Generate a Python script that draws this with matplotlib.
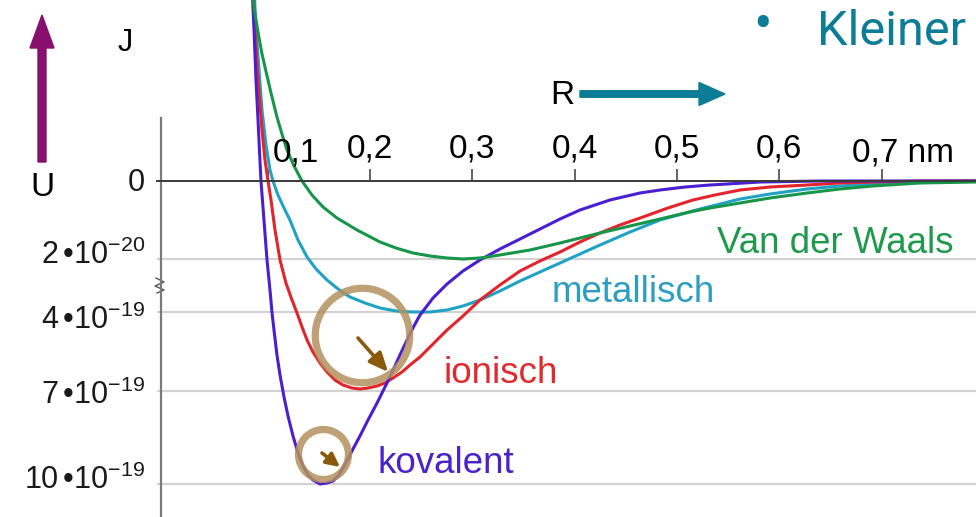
import numpy as np
import matplotlib.pyplot as plt
from matplotlib.patches import FancyArrow
from matplotlib.lines import Line2D
from matplotlib.transforms import IdentityTransform

plt.rcParams['font.family'] = ['Liberation Sans', 'DejaVu Sans']
plt.rcParams['mathtext.fontset'] = 'custom'
plt.rcParams['mathtext.rm'] = 'Liberation Sans'

# Abstand R in nm, Bindungsenergie U in 10^-19 J (nach unten aufgetragen)
r_kovalent = [0.0847, 0.0867, 0.0886, 0.0906, 0.0920, 0.0935, 0.0964, 0.0994, 0.1023,
              0.1043, 0.1062, 0.1091, 0.1121, 0.1160, 0.1199, 0.1248, 0.1297, 0.1346,
              0.1394, 0.1443, 0.1512, 0.1580, 0.1639, 0.1688, 0.1736, 0.1785, 0.1834,
              0.1902, 0.1971, 0.2069, 0.2166, 0.2244, 0.2293, 0.2362, 0.2430, 0.2489,
              0.2616, 0.2753, 0.2909, 0.3075, 0.3270, 0.3564, 0.3857, 0.4052, 0.4345,
              0.4638, 0.4834, 0.5078, 0.5322, 0.5811, 0.6397, 0.7921]
u_kovalent = [-0.5, -0.3872, -0.259, -0.1564, -0.0795, 0, 0.1, 0.2717, 2.4226,
              4.038, 4.6836, 5.6329, 6.3924, 7.1935, 7.8065, 8.4516, 9.0, 9.4194,
              9.7097, 9.871, 10.0, 9.9677, 9.9032, 9.7419, 9.4839, 9.1935, 8.871,
              8.4516, 8.0, 7.3871, 6.6962, 6.0507, 5.6329, 5.0633, 4.5317, 4.1139,
              2.9962, 1.9925, 1.0604, 0.2717, 0.1744, 0.1359, 0.0974, 0.0744, 0.0487,
              0.0308, 0.0231, 0.0154, 0.0103, 0.0026, 0, 0]

r_ionisch = [0.0857, 0.0876, 0.0906, 0.0945, 0.0974, 0.1004, 0.1033, 0.1072, 0.1121,
             0.1179, 0.1238, 0.1287, 0.1336, 0.1385, 0.1443, 0.1512, 0.1580, 0.1658,
             0.1736, 0.1824, 0.1902, 0.1981, 0.2069, 0.2147, 0.2225, 0.2313, 0.2391,
             0.2489, 0.2616, 0.2753, 0.2909, 0.3075, 0.3270, 0.3466, 0.3661, 0.3857,
             0.4052, 0.4248, 0.4443, 0.4668, 0.4912, 0.5156, 0.5371, 0.5616, 0.5909,
             0.6270, 0.6593, 0.6915, 0.7375, 0.7921]
u_ionisch = [-0.5, -0.3872, -0.259, -0.1308, -0.0538, 0, 0.0487, 0.1256, 0.2717,
             1.9208, 3.1396, 4.038, 4.5696, 5.0633, 5.519, 5.9367, 6.2785, 6.5823,
             6.7722, 6.8861, 6.9241, 6.8861, 6.8101, 6.6962, 6.5063, 6.2785, 6.0127,
             5.7089, 5.2152, 4.6836, 4.1519, 3.1396, 2.0641, 1.0604, 0.3434, 0.1821,
             0.1564, 0.1333, 0.1128, 0.0923, 0.0692, 0.0487, 0.0359, 0.0231, 0.0154,
             0.0103, 0.0051, 0.0026, 0, 0]

r_metallisch = [0.0867, 0.0886, 0.0916, 0.0945, 0.0984, 0.1023, 0.1052, 0.1101, 0.1160,
                0.1218, 0.1297, 0.1385, 0.1473, 0.1580, 0.1688, 0.1805, 0.1951, 0.2098,
                0.2254, 0.2420, 0.2587, 0.2753, 0.2909, 0.3075, 0.3270, 0.3466, 0.3661,
                0.3857, 0.4052, 0.4248, 0.4541, 0.4834, 0.5225, 0.5616, 0.5909, 0.6270,
                0.6593, 0.6915, 0.7375, 0.7921]
u_metallisch = [-0.5, -0.3872, -0.2846, -0.1821, -0.0923, -0.0282, 0, 0.0359, 0.0692,
                0.1, 0.1513, 0.1949, 0.917, 1.7057, 2.3509, 2.9245, 3.3547, 3.7132,
                3.9283, 4.0, 4.0, 3.8566, 3.5698, 3.1396, 2.4943, 1.7774, 1.1321,
                0.4868, 0.1872, 0.1641, 0.1308, 0.1, 0.0718, 0.0462, 0.0333, 0.0205,
                0.0128, 0.0077, 0.0026, 0]

r_vdw = [0.0837, 0.0857, 0.0886, 0.0916, 0.0945, 0.0974, 0.1033, 0.1091, 0.1140,
         0.1189, 0.1258, 0.1336, 0.1433, 0.1541, 0.1678, 0.1873, 0.2098, 0.2254,
         0.2420, 0.2587, 0.2753, 0.2909, 0.3075, 0.3270, 0.3564, 0.3857, 0.4248,
         0.4541, 0.4834, 0.5125, 0.5322, 0.5616, 0.5909, 0.6270, 0.6593, 0.6915,
         0.7375, 0.7921]
u_vdw = [-0.5, -0.4641, -0.4128, -0.3667, -0.3256, -0.2923, -0.2256, -0.1641, -0.1205,
         -0.0795, -0.0385, 0, 0.0359, 0.0667, 0.0949, 0.1256, 0.1564, 0.1718,
         0.1846, 0.1923, 0.1974, 0.2, 0.1974, 0.1897, 0.1769, 0.159, 0.1333,
         0.1154, 0.0974, 0.0795, 0.0692, 0.0564, 0.0436, 0.0308, 0.0205, 0.0128,
         0.0051, 0.0026]

x_ticks = [0.1, 0.2, 0.3, 0.4, 0.5, 0.6, 0.7]
x_labels = ['0,1', '0,2', '0,3', '0,4', '0,5', '0,6', '0,7']
y_ticks = [0, 0.2, 4, 7, 10]
y_labels = ['0', r'$\mathregular{2\,•10^{-20}}$', r'$\mathregular{4\,•10^{-19}}$',
            r'$\mathregular{7\,•10^{-19}}$', r'$\mathregular{10\,•10^{-19}}$']

# gebrochene Energieachse: Abstand (px) jeder Marke unter der Nulllinie
scale_px = [0, 78, 131, 210, 303]

W, H = 976, 517
ZERO_Y = 181


def to_px(v):
    v = np.asarray(v, float)
    out = np.interp(v, y_ticks, scale_px)
    s0 = (scale_px[1] - scale_px[0]) / (y_ticks[1] - y_ticks[0])
    s1 = (scale_px[-1] - scale_px[-2]) / (y_ticks[-1] - y_ticks[-2])
    out = np.where(v < y_ticks[0], scale_px[0] + (v - y_ticks[0]) * s0, out)
    out = np.where(v > y_ticks[-1], scale_px[-1] + (v - y_ticks[-1]) * s1, out)
    return out


def from_px(p):
    p = np.asarray(p, float)
    out = np.interp(p, scale_px, y_ticks)
    s0 = (y_ticks[1] - y_ticks[0]) / (scale_px[1] - scale_px[0])
    s1 = (y_ticks[-1] - y_ticks[-2]) / (scale_px[-1] - scale_px[-2])
    out = np.where(p < scale_px[0], y_ticks[0] + (p - scale_px[0]) * s0, out)
    out = np.where(p > scale_px[-1], y_ticks[-1] + (p - scale_px[-1]) * s1, out)
    return out


def px_to_r(x):
    return (x - 165.3) / 1023.4


def fig_xy(x, y):
    # Bildpixel (oben links) -> figure fraction
    return x / W, 1 - y / H


fig = plt.figure(figsize=(W / 100, H / 100), dpi=100)
ax = fig.add_axes([0, 0, 1, 1])
ax.set_yscale('function', functions=(to_px, from_px))
ax.set_xlim(px_to_r(0), px_to_r(W))
ax.set_ylim(float(from_px(H - ZERO_Y)), float(from_px(-ZERO_Y)))

# Achsen
for s in ['bottom', 'right']:
    ax.spines[s].set_visible(False)
ax.spines['top'].set_position(('data', 0))
ax.spines['top'].set_bounds(px_to_r(157), px_to_r(W))
ax.spines['top'].set_color('#3a3a3a')
ax.spines['top'].set_linewidth(1.4)
ax.spines['left'].set_position(('data', px_to_r(160.7)))
ax.spines['left'].set_bounds(float(from_px(118 - ZERO_Y)), float(from_px(H - ZERO_Y)))
ax.spines['left'].set_color('#7a7a7a')
ax.spines['left'].set_linewidth(1.6)

ax.set_xticks(x_ticks, [''] + x_labels[1:-1] + [''])
ax.tick_params(axis='x', bottom=False, labelbottom=False, top=True, labeltop=True,
               direction='out', length=9, width=1.1, color='#3a3a3a', pad=3,
               labelsize=24)
ax.tick_params(axis='y', left=False, labelleft=False)
ax.set_yticks([])

ax.hlines(y_ticks[1:], px_to_r(157), px_to_r(W), color='#d2d2d2', lw=1.6, zorder=0)

# y-Beschriftungen
label_dy = [-2, 4, -8, -4, 4]
for v, lab, dy in zip(y_ticks, y_labels, label_dy):
    ax.annotate(lab, xy=(px_to_r(145), v), xytext=(0, dy * 0.72), textcoords='offset points',
                ha='right', va='center', fontsize=22, color='#1a1a1a')

fig.text(*fig_xy(296, 161), x_labels[0], ha='center', va='baseline', fontsize=24)
fig.text(*fig_xy(852, 161), x_labels[-1] + ' nm', ha='left', va='baseline', fontsize=24)

# Achsenbruch
ax.add_line(Line2D([156, 164, 155, 164, 157], [H - 278, H - 282, H - 286, H - 290, H - 293],
                   transform=IdentityTransform(), color='#555555', lw=1.0))

# Kurven
kw = dict(lw=2.2, solid_joinstyle='round', solid_capstyle='round')
ax.plot(r_metallisch, u_metallisch, color='#1fa2c4', **kw)
ax.plot(r_ionisch, u_ionisch, color='#e3242b', **kw)
ax.plot(r_kovalent, u_kovalent, color='#4a1fcf', **kw)
ax.plot(r_vdw, u_vdw, color='#17964a', **kw)

fig.text(*fig_xy(717, 253), 'Van der Waals', color='#1f9a4c', fontsize=26.5, va='baseline')
fig.text(*fig_xy(552, 302), 'metallisch', color='#2b9ec2', fontsize=26.5, va='baseline')
fig.text(*fig_xy(443, 383), 'ionisch', color='#df2a2e', fontsize=26.5, va='baseline')
fig.text(*fig_xy(378, 473), 'kovalent', color='#4b22c8', fontsize=26.5, va='baseline')

# Markierungen
ring = '#b3915f'
ax.plot([0.1924], [4.873], 'o', ms=68, mfc='none', mec=ring, mew=5.2, alpha=0.85)
ax.plot([0.1541], [9.032], 'o', ms=36, mfc='none', mec=ring, mew=5.2, alpha=0.85)
brown = '#8a5a0c'
ax.annotate('', xy=(0.2177, 6.278), xytext=(0.1883, 4.987),
            arrowprops=dict(arrowstyle='-|>,head_length=0.95,head_width=0.42',
                            color=brown, lw=2.6, mutation_scale=12, shrinkA=0, shrinkB=0))
ax.annotate('', xy=(0.1707, 9.452), xytext=(0.1531, 9.0),
            arrowprops=dict(arrowstyle='-|>,head_length=0.8,head_width=0.4',
                            color=brown, lw=2.6, mutation_scale=10, shrinkA=0, shrinkB=0))

# Pfeile und Achsentitel
fig.add_artist(FancyArrow(42, H - 162, 0, 147, width=8, head_width=24, head_length=33,
                          length_includes_head=True, color='#870f6e',
                          transform=IdentityTransform()))
fig.add_artist(FancyArrow(580, H - 94, 145, 0, width=6.5, head_width=23, head_length=26,
                          length_includes_head=True, color='#0c7d96',
                          transform=IdentityTransform()))
fig.text(*fig_xy(42, 187), 'U', ha='center', va='center', fontsize=24)
fig.text(*fig_xy(125, 43), 'J', ha='center', va='center', fontsize=22)
fig.text(*fig_xy(562, 95), 'R', ha='center', va='center', fontsize=24)

fig.text(*fig_xy(763, 27), '•', ha='center', va='center', fontsize=40, color='#0c7d96',
         family=['Roboto', 'DejaVu Sans'])
fig.text(*fig_xy(817, 45), 'Kleiner', ha='left', va='baseline', fontsize=35, color='#0c7d96',
         family=['Roboto', 'DejaVu Sans'])

fig.savefig('out.png', dpi=100)
